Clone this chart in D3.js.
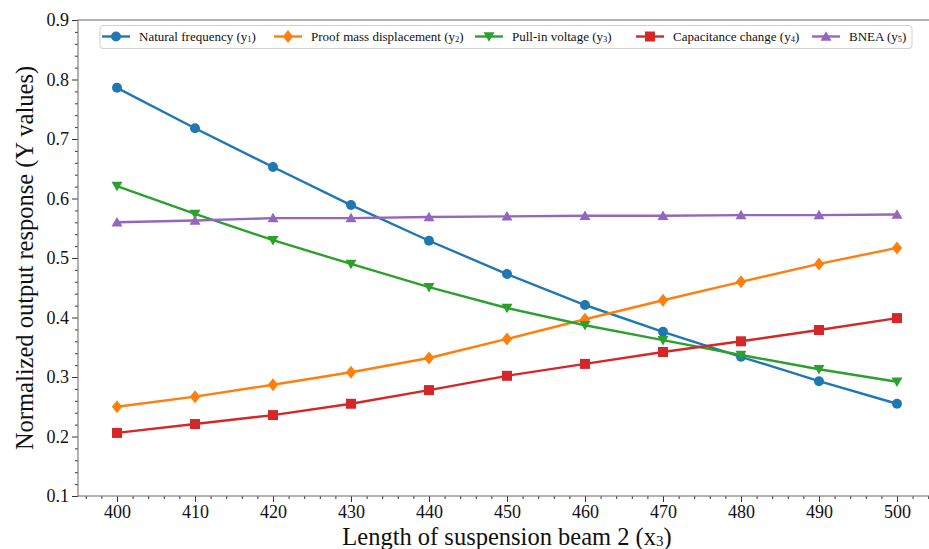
<!DOCTYPE html>
<html><head><meta charset="utf-8">
<script src="https://cdn.jsdelivr.net/npm/d3@7"></script>
<style>body{margin:0;background:#fff}svg{display:block}</style>
</head><body>
<svg id="c" width="929" height="549"></svg>
<script>
const xValues = [400,410,420,430,440,450,460,470,480,490,500];
const naturalFrequency = [0.786,0.718,0.653,0.589,0.529,0.473,0.421,0.376,0.334,0.293,0.255];
const proofMass = [0.250,0.267,0.287,0.308,0.332,0.364,0.397,0.429,0.460,0.490,0.517];
const pullIn = [0.621,0.574,0.530,0.490,0.451,0.416,0.387,0.362,0.337,0.313,0.292];
const capacitance = [0.206,0.221,0.236,0.255,0.278,0.302,0.322,0.342,0.360,0.379,0.399];
const bnea = [0.560,0.563,0.567,0.567,0.569,0.570,0.571,0.571,0.572,0.572,0.573];
const seriesNames = ["Natural frequency (y","Proof mass displacement (y","Pull-in voltage (y","Capacitance change (y","BNEA (y"];
const seriesSubs = ["1","2","3","4","5"];
const xTicks = [400,410,420,430,440,450,460,470,480,490,500];
const yTicks = [0.1,0.2,0.3,0.4,0.5,0.6,0.7,0.8,0.9];

const series = [
  {name:seriesNames[0], sub:seriesSubs[0], values:naturalFrequency, color:"#1f77b4", symbol:"circle"},
  {name:seriesNames[1], sub:seriesSubs[1], values:proofMass, color:"#ff7f0e", symbol:"diamond"},
  {name:seriesNames[2], sub:seriesSubs[2], values:pullIn, color:"#2ca02c", symbol:"tridown"},
  {name:seriesNames[3], sub:seriesSubs[3], values:capacitance, color:"#d62728", symbol:"square"},
  {name:seriesNames[4], sub:seriesSubs[4], values:bnea, color:"#9467bd", symbol:"triup"}
];

const svg = d3.select("#c");
const L=78, R=936, T=20, B=496;
const x = d3.scaleLinear().domain([395,505]).range([L,R]);
const y = d3.scaleLinear().domain([0.1,0.9]).range([B,T]);
const font = "'Liberation Serif','Times New Roman',serif";
const axisColor = "#7f7f7f";

function markerPath(sym){
  switch(sym){
    case "circle": return d3.symbol(d3.symbolCircle, 78)();
    case "diamond": return "M0,-6.5L5.2,0L0,6.5L-5.2,0Z";
    case "square": return "M-5,-5H5V5H-5Z";
    case "tridown": return "M-5.5,-4.2L5.5,-4.2L0,5.3Z";
    case "triup": return "M-5.5,4.2L5.5,4.2L0,-5.3Z";
  }
}

// axes
const xAxis = svg.append("g").attr("transform",`translate(0,${B})`)
  .call(d3.axisBottom(x).tickValues(xTicks).tickSize(6).tickPadding(3).tickFormat(d3.format("d")));
const xMinor = svg.append("g").attr("transform",`translate(0,${B})`)
  .call(d3.axisBottom(x).tickValues(d3.range(396,505,2).filter(v=>v%10!==0)).tickSize(3).tickFormat(""));
const yAxis = svg.append("g").attr("transform",`translate(${L},0)`)
  .call(d3.axisLeft(y).tickValues(yTicks).tickSize(6).tickPadding(3).tickFormat(d3.format(".1f")));
const yMinor = svg.append("g").attr("transform",`translate(${L},0)`)
  .call(d3.axisLeft(y).tickValues(d3.range(0.12,0.9,0.02).filter(v=>Math.abs(v*10-Math.round(v*10))>0.01)).tickSize(3).tickFormat(""));
[xAxis,xMinor,yAxis,yMinor].forEach(g=>{
  g.attr("font-family",font);
  g.select(".domain").remove();
  g.selectAll(".tick line").attr("stroke","#333").attr("stroke-width",1);
  g.selectAll("text").attr("font-family",font).attr("font-size",18).attr("fill","#111");
});
// spines
svg.append("rect").attr("x",L).attr("y",T).attr("width",R-L).attr("height",B-T)
  .attr("fill","none").attr("stroke",axisColor).attr("stroke-width",1.2);

// lines
const line = d3.line().x((d,i)=>x(xValues[i])).y(d=>y(d));
series.forEach(s=>{
  svg.append("path").datum(s.values).attr("d",line)
    .attr("fill","none").attr("stroke",s.color).attr("stroke-width",2.4);
  svg.selectAll(null).data(s.values).enter().append("path")
    .attr("d",markerPath(s.symbol))
    .attr("transform",(d,i)=>`translate(${x(xValues[i])},${y(d)})`)
    .attr("fill",s.color);
});

// legend
const lg = svg.append("g");
lg.append("rect").attr("x",100).attr("y",25.5).attr("width",812).attr("height",23).attr("rx",3)
  .attr("fill","#fff").attr("fill-opacity",0.85).attr("stroke","#d0d0d0").attr("stroke-width",1);
const legendX = [102,274,475,636,812];
series.forEach((s,i)=>{
  const lx = legendX[i], ly = 36.5;
  lg.append("line").attr("x1",lx).attr("x2",lx+28).attr("y1",ly).attr("y2",ly)
    .attr("stroke",s.color).attr("stroke-width",2.4);
  lg.append("path").attr("d",markerPath(s.symbol)).attr("transform",`translate(${lx+14},${ly})`).attr("fill",s.color);
  const t = lg.append("text").attr("x",lx+37).attr("y",ly+4.5).attr("font-family",font).attr("font-size",13).attr("fill","#111");
  t.append("tspan").text(s.name);
  t.append("tspan").attr("font-size",8.5).attr("dy",1).text(s.sub);
  t.append("tspan").attr("dy",-1).text(")");
});

// axis labels
const xl = svg.append("text").attr("x",(L+R)/2).attr("y",544.5).attr("text-anchor","middle")
  .attr("font-family",font).attr("font-size",24.5).attr("fill","#111");
xl.append("tspan").text("Length of suspension beam 2 (x");
xl.append("tspan").attr("font-size",15).attr("dy",1).text("3");
xl.append("tspan").attr("dy",-1).text(")");
svg.append("text").attr("transform",`translate(33,${(T+B)/2}) rotate(-90)`).attr("text-anchor","middle")
  .attr("font-family",font).attr("font-size",24.5).attr("fill","#111")
  .text("Normalized output response (Y values)");
</script>
</body></html>
